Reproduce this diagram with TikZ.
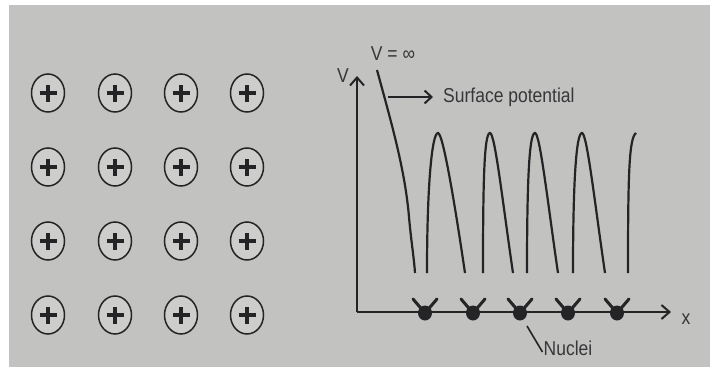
\documentclass[tikz,border=0pt]{standalone}
\usepackage{fontspec}
\usepackage{graphicx}
\setmainfont{Liberation Sans}
\usetikzlibrary{arrows.meta,shapes.geometric}
\definecolor{paper}{RGB}{194,194,192}
\definecolor{ink}{RGB}{36,36,38}
\definecolor{txt}{RGB}{55,55,58}
\newcommand{\tallify}[1]{\scalebox{1}[1.15]{#1}}
\begin{document}
\begin{tikzpicture}[x=1pt,y=-1pt,
  ion/.style={ellipse,draw=ink,line width=1.5pt,minimum width=33pt,minimum height=38pt,inner sep=0pt,fill=paper!82!white,
    path picture={\draw[ink,line width=3.3pt]
      ([xshift=-8.5pt]path picture bounding box.center) -- ([xshift=8.5pt]path picture bounding box.center)
      ([yshift=-8.5pt]path picture bounding box.center) -- ([yshift=8.5pt]path picture bounding box.center);}},
  nucleus/.style={ellipse,fill=ink,minimum width=14pt,minimum height=15pt,inner sep=0pt},
  arm/.style={ink,line width=3pt,line cap=round},
  axis/.style={ink,line width=2pt,-{Straight Barb[length=8pt,width=14pt,line width=2pt]}},
  curve/.style={ink,line width=2.2pt},
  lbl/.style={text=txt,font=\fontsize{17.5}{20}\selectfont,inner sep=0pt}
]
\useasboundingbox (0,0) rectangle (710,367);
\fill[white] (0,0) rectangle (710,367);
\fill[paper] (9,5) rectangle (710,367);

% ion lattice
\foreach \r/\y in {1/93,2/167,3/241,4/315}{
  \foreach \c/\x in {1/48,2/115,3/181,4/247}{
    \node[ion] (ion-\r-\c) at (\x,\y) {};
  }
}

% axes
\coordinate (O) at (357,312);
\coordinate (vtip) at (357,76);
\coordinate (xtip) at (671,312);
\draw[axis] (O) -- (vtip);
\draw[axis] (O) -- (xtip);
\node[lbl] (Vlab) at (343,76) {\tallify{V}};
\node[lbl] (xlab) at (686,319) {\tallify{x}};

% nuclei
\foreach \i/\x in {1/425,2/473,3/520,4/568,5/617}{
  \node[nucleus] (n\i) at (\x,313) {};
  \draw[arm] (n\i.center) -- ++(-12,-14);
  \draw[arm] (n\i.center) -- ++(12,-14);
}
\node[lbl] (nuc) at (568,348) {\tallify{Nuclei}};
\coordinate (ldr) at (527,326);
\draw[ink,line width=1.6pt] (ldr) -- ([xshift=-1pt,yshift=-4pt]nuc.west);

% surface potential curve
\draw[curve] (377,70) .. controls (392,125) and (405,170) .. (409,217) .. controls (411,240) and (414,258) .. (415,273);
\node[lbl] (vinf) at (393,54) {\tallify{V = ∞}};

% arches
\foreach \l/\p/\r in {427/438/465, 483/490/513, 527/535/558, 573/582/605}{
  \draw[curve] (\l,273) .. controls (\l,185) and ({\p-6},133) .. (\p,133)
     .. controls ({\p+5},133) and ({\r-10},205) .. (\r,273);
}
\draw[curve] (628,273) .. controls (628,175) and (629,138) .. (636,133);

% surface potential label
\coordinate (spstart) at (388,97);
\node[lbl,anchor=west] (sp) at (443,97) {\tallify{Surface potential}};
\draw[ink,line width=2pt,-{Straight Barb[length=7pt,width=13pt,line width=2pt]},shorten >=10pt] (spstart) -- (sp.west);
\end{tikzpicture}
\end{document}
